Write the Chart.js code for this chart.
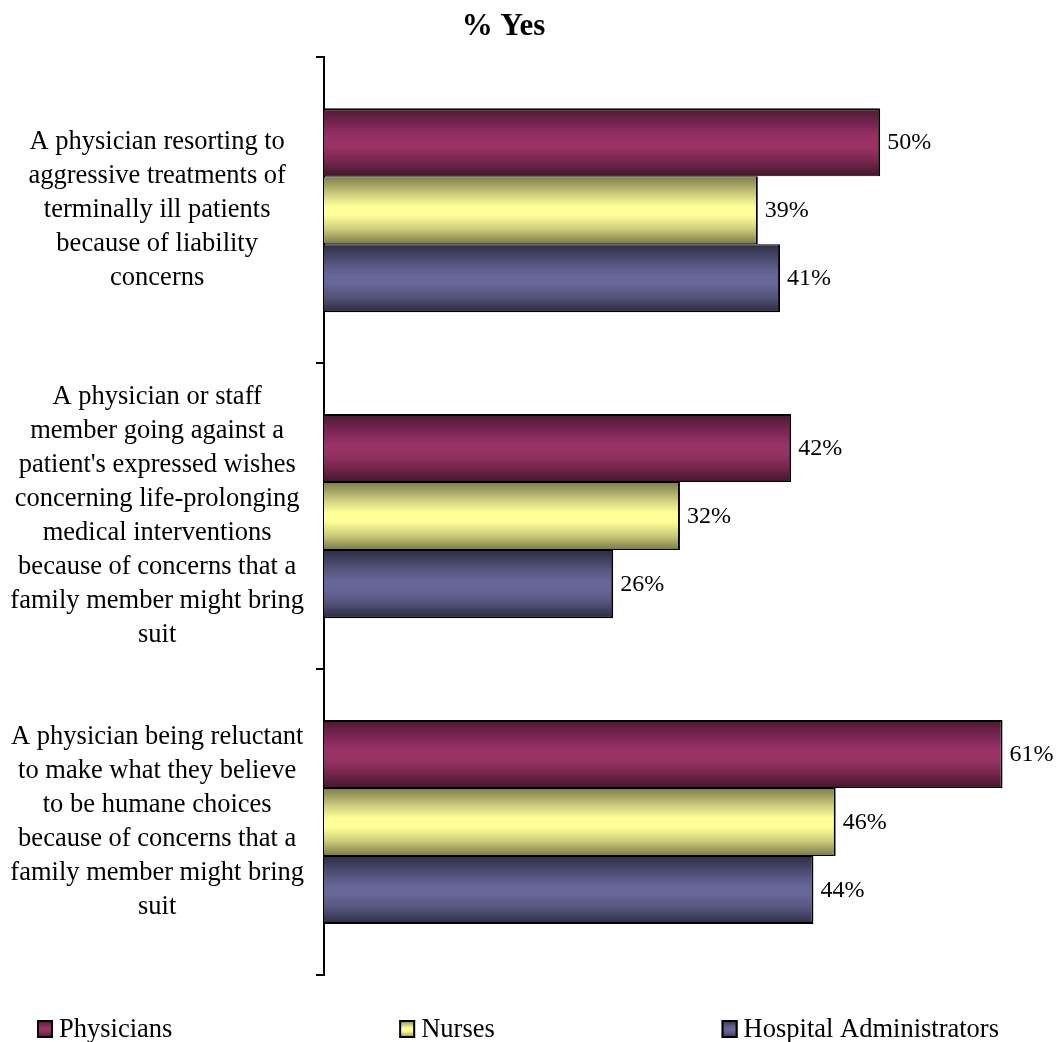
<!DOCTYPE html>
<html>
<head>
<meta charset="utf-8">
<title>% Yes</title>
<script src="https://cdn.jsdelivr.net/npm/chart.js@4.4.1/dist/chart.umd.min.js"></script>
<style>
  html, body { margin: 0; padding: 0; background: #fff; }
  #wrap { width: 1057px; height: 1042px; }
</style>
</head>
<body>
<div id="wrap"><canvas id="chart"></canvas></div>
<script>
// Questions (already wrapped into lines) and answers per group
const categories = [
  ['A physician resorting to', 'aggressive treatments of', 'terminally ill patients',
   'because of liability', 'concerns'],
  ['A physician or staff', 'member going against a', "patient's expressed wishes",
   'concerning life-prolonging', 'medical interventions', 'because of concerns that a',
   'family member might bring', 'suit'],
  ['A physician being reluctant', 'to make what they believe', 'to be humane choices',
   'because of concerns that a', 'family member might bring', 'suit']
];
const seriesNames = ['Physicians', 'Nurses', 'Hospital Administrators'];
const physicians = [50, 42, 61];
const nurses = [39, 32, 46];
const administrators = [41, 26, 44];

const SERIF = "'Liberation Serif', 'Times New Roman', serif";
const X_MAX = 61.4;
const CAT_PCT = 0.667;

// edge -> middle -> edge shading for each series
const shades = [
  [[0, '#4a1830'], [0.3, '#85295a'], [0.45, '#993366'], [0.58, '#993366'], [0.78, '#75264d'], [1, '#45152c']],
  [[0, '#7c7c4a'], [0.3, '#d8d884'], [0.45, '#ffff99'], [0.58, '#ffff99'], [0.78, '#cccc7a'], [1, '#777746']],
  [[0, '#2d2d45'], [0.3, '#56567f'], [0.45, '#666699'], [0.58, '#666699'], [0.78, '#535379'], [1, '#2a2a40']]
];

function makeGradient(ctx, top, bottom, stops) {
  const g = ctx.createLinearGradient(0, top, 0, bottom);
  stops.forEach(([pos, col]) => g.addColorStop(pos, col));
  return g;
}

function barFill(context) {
  const chart = context.chart;
  const stops = shades[context.datasetIndex];
  const yScale = chart.scales.y;
  if (!chart.chartArea || !yScale || context.dataIndex === undefined) return stops[2][1];
  const n = chart.data.datasets.length;
  const catH = yScale.height / categories.length;
  const barH = catH * CAT_PCT / n;
  const center = yScale.getPixelForValue(context.dataIndex);
  const top = center - catH * CAT_PCT / 2 + context.datasetIndex * barH;
  return makeGradient(chart.ctx, top, top + barH, stops);
}

// percentage text at the end of every bar
const valueLabels = {
  id: 'valueLabels',
  afterDatasetsDraw(chart) {
    const ctx = chart.ctx;
    ctx.save();
    ctx.font = '24px ' + SERIF;
    ctx.fillStyle = '#000';
    ctx.textAlign = 'left';
    ctx.textBaseline = 'middle';
    chart.data.datasets.forEach((ds, i) => {
      chart.getDatasetMeta(i).data.forEach((bar, j) => {
        ctx.fillText(ds.data[j] + '%', bar.x + 7, bar.y + 1);
      });
    });
    ctx.restore();
  }
};

// legend row along the bottom, items spread across the width
const bottomLegend = {
  id: 'bottomLegend',
  afterDraw(chart) {
    const ctx = chart.ctx;
    ctx.save();
    ctx.font = '26.5px ' + SERIF;
    const boxW = 16, boxH = 18, gap = 6;
    const widths = seriesNames.map(n => boxW + gap + ctx.measureText(n).width);
    const left = 37, right = 999, y = 1029;
    const spacing = (right - left - widths.reduce((a, b) => a + b, 0)) / (widths.length - 1);
    let x = left;
    seriesNames.forEach((name, i) => {
      const top = y - boxH / 2;
      ctx.fillStyle = makeGradient(ctx, top, top + boxH, shades[i]);
      ctx.fillRect(x, top, boxW, boxH);
      ctx.strokeStyle = '#000';
      ctx.lineWidth = 2;
      ctx.strokeRect(x + 1, top + 1, boxW - 2, boxH - 2);
      ctx.fillStyle = '#000';
      ctx.textAlign = 'left';
      ctx.textBaseline = 'middle';
      ctx.fillText(name, x + boxW + gap, y + 1);
      x += widths[i] + spacing;
    });
    ctx.restore();
  }
};

const data = {
  labels: categories,
  datasets: [
    { label: seriesNames[0], data: physicians, borderWidth: { top: 2, bottom: 1, right: 2, left: 0 } },
    { label: seriesNames[1], data: nurses, borderWidth: { top: 1, bottom: 1, right: 2, left: 0 } },
    { label: seriesNames[2], data: administrators, borderWidth: { top: 1, bottom: 2, right: 2, left: 0 } }
  ].map(ds => Object.assign(ds, {
    backgroundColor: barFill,
    borderColor: '#000',
    borderSkipped: false,
    barPercentage: 1,
    categoryPercentage: CAT_PCT
  }))
};

new Chart(document.getElementById('chart'), {
  type: 'bar',
  data,
  plugins: [valueLabels, bottomLegend],
  options: {
    indexAxis: 'y',
    responsive: true,
    maintainAspectRatio: false,
    animation: false,
    layout: { padding: { top: 0, right: 50, bottom: 67, left: 0 } },
    plugins: {
      legend: { display: false },
      tooltip: { enabled: false },
      title: {
        display: true,
        text: '% Yes',
        color: '#000',
        font: { family: SERIF, size: 31, weight: 'bold' },
        padding: { top: 8, bottom: 12 }
      }
    },
    scales: {
      x: { display: false, min: 0, max: X_MAX },
      y: {
        grid: { drawOnChartArea: false, color: '#000', lineWidth: 2, tickLength: 8 },
        border: { color: '#000', width: 2 },
        ticks: {
          color: '#000',
          font: { family: SERIF, size: 26.5, lineHeight: 34 / 26.5 },
          crossAlign: 'center',
          padding: 12,
          autoSkip: false
        },
        afterFit(scale) {
          scale.width = 324;
          scale.paddingTop = 0;
          scale.paddingBottom = 0;
        }
      }
    }
  }
});
</script>
</body>
</html>
